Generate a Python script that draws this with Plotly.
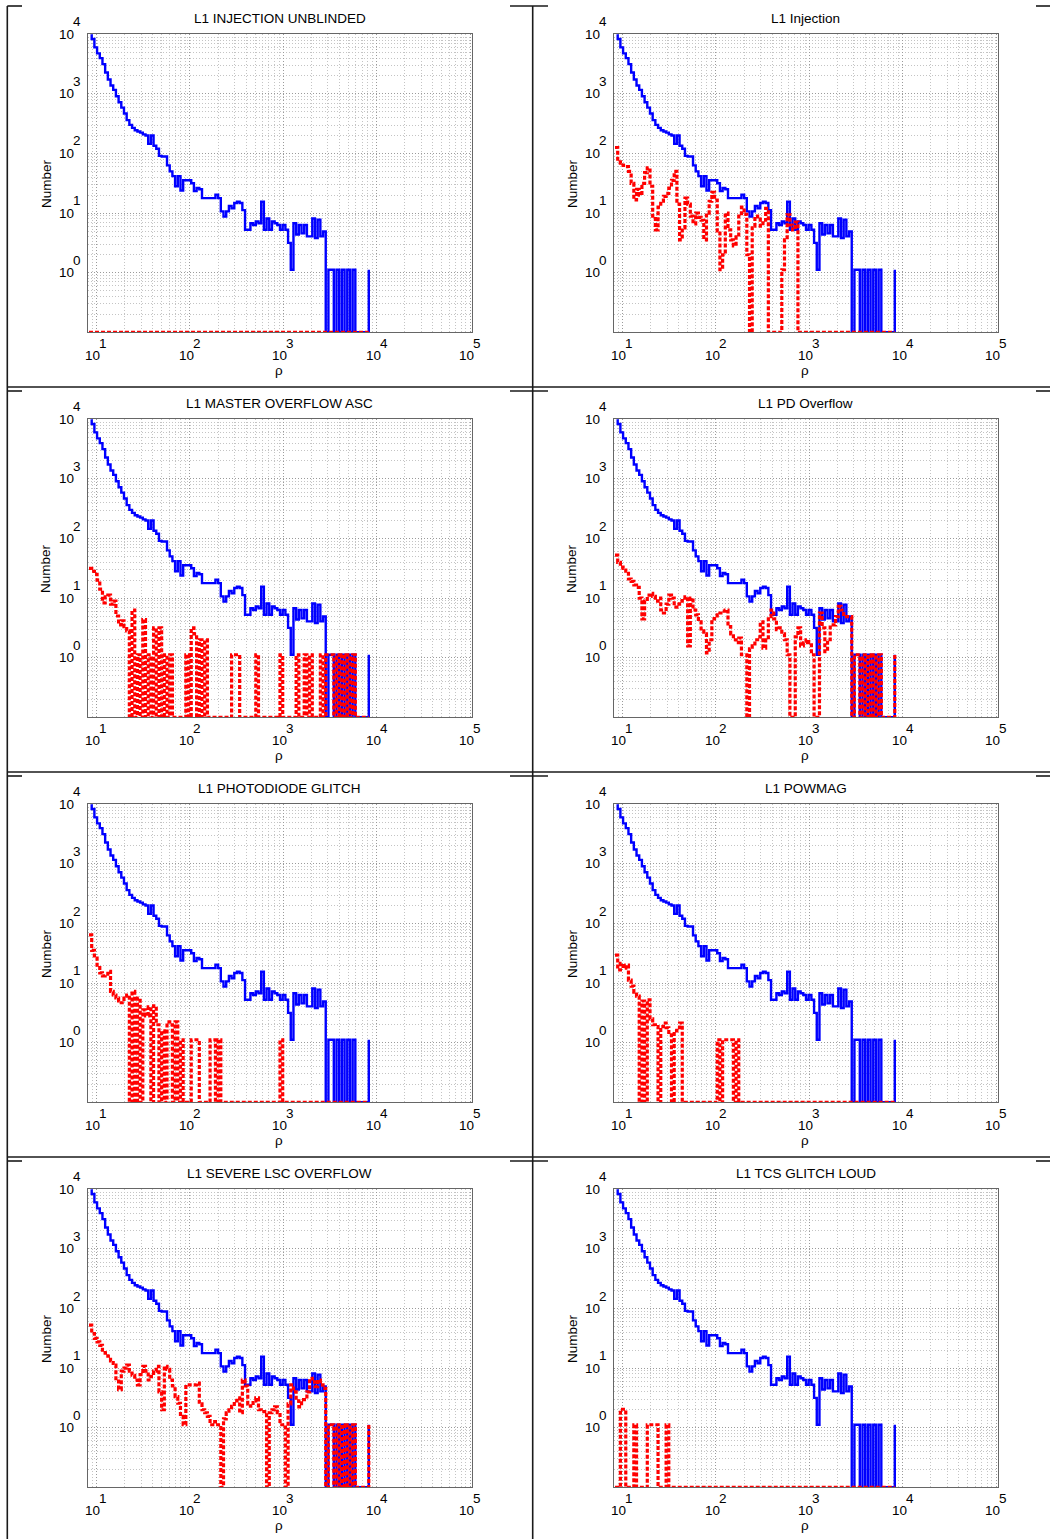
import numpy as np
import plotly.graph_objects as go

W, H = 1050, 1539
FONT = "Liberation Sans, Arial, Helvetica, sans-serif"

# Histogram binning in log10(rho), shared by every panel (left bin edges)
LOG_RHO_START = 0.920
LOG_RHO_STEP = 0.0288
N_BINS = 105

X_LOG_RANGE = [0.906, 5.017]
Y_LOG_RANGE = [-1.0, 4.0]

panel_titles = [
    "L1 INJECTION UNBLINDED", "L1 Injection",
    "L1 MASTER OVERFLOW ASC", "L1 PD Overflow",
    "L1 PHOTODIODE GLITCH", "L1 POWMAG",
    "L1 SEVERE LSC OVERFLOW", "L1 TCS GLITCH LOUD",
]

# All triggers (blue), identical in each panel
background_counts = [
    15800, 8320, 6030, 4790, 3980, 3160, 2290, 1740, 1380, 1170,
    912, 724, 589, 468, 363, 302, 269, 245, 234, 224,
    209, 200, 145, 200, 135, 120, 91.2, 89.1, 89.1, 63.1,
    50.1, 41.7, 28.2, 41.7, 24.0, 35.5, 35.5, 35.5, 31.6, 23.4,
    26.3, 25.1, 17.8, 17.8, 17.8, 17.8, 17.8, 20.4, 17.8, 10.7,
    8.71, 10.7, 13.2, 12.0, 14.8, 15.5, 14.8, 11.2, 5.25, 5.25,
    6.76, 6.31, 7.24, 6.76, 15.5, 5.25, 8.13, 5.25, 7.24, 6.76,
    6.31, 5.25, 6.31, 5.25, 3.16, 1.12, 6.76, 4.37, 6.31, 4.57,
    6.31, 4.07, 4.07, 8.13, 3.80, 7.76, 4.07, 4.90, 0, 1.12,
    1.12, 0, 1.12, 0, 1.12, 0, 1.12, 0, 1.12, 0,
    0, 0, 0, 0, 1.12,
]

# Triggers vetoed by each data-quality flag (red)
injection_unblinded = [
    0, 0, 0, 0, 0, 0, 0, 0, 0, 0,
    0, 0, 0, 0, 0, 0, 0, 0, 0, 0,
    0, 0, 0, 0, 0, 0, 0, 0, 0, 0,
    0, 0, 0, 0, 0, 0, 0, 0, 0, 0,
    0, 0, 0, 0, 0, 0, 0, 0, 0, 0,
    0, 0, 0, 0, 0, 0, 0, 0, 0, 0,
    0, 0, 0, 0, 0, 0, 0, 0, 0, 0,
    0, 0, 0, 0, 0, 0, 0, 0, 0, 0,
    0, 0, 0, 0, 0, 0, 0, 0, 0, 0,
    0, 0, 0, 0, 0, 0, 0, 0, 0, 0,
    0, 0, 0, 0, 0,
]
injection = [
    126, 72.4, 69.2, 63.1, 60.3, 50.1, 31.6, 16.6, 25.1, 20.0,
    31.6, 47.9, 57.5, 28.2, 8.91, 5.25, 12.6, 15.8, 19.1, 21.4,
    26.3, 35.5, 50.1, 14.1, 3.55, 5.62, 17.8, 14.1, 8.91, 6.61,
    10.0, 8.51, 7.59, 3.55, 10.0, 15.8, 22.4, 16.6, 5.01, 1.12,
    2.0, 10.0, 5.25, 3.55, 2.82, 3.98, 8.91, 12.6, 9.55, 2.0,
    0, 6.03, 8.91, 7.94, 6.03, 7.59, 12.0, 0, 0, 0,
    0, 0, 1.12, 3.55, 9.33, 6.31, 5.25, 7.08, 0, 0,
    0, 0, 0, 0, 0, 0, 0, 0, 0, 0,
    0, 0, 0, 0, 0, 0, 0, 0, 0, 0,
    0, 0, 0, 0, 0, 0, 0, 0, 0, 0,
    0, 0, 0, 0, 0,
]
master_overflow_asc = [
    31.6, 28.2, 25.1, 20.0, 14.1, 8.32, 10.5, 11.2, 7.94, 8.91,
    5.01, 3.55, 4.17, 3.31, 2.82, 0, 6.31, 0, 1.12, 0,
    4.37, 0, 1.12, 0, 3.16, 0, 3.16, 0, 1.12, 0,
    1.12, 0, 0, 0, 0, 0, 1.12, 0, 3.16, 2.51,
    0, 2.0, 0, 2.0, 0, 0, 0, 0, 0, 0,
    0, 0, 0, 1.12, 1.12, 1.12, 0, 0, 0, 0,
    0, 0, 1.12, 0, 0, 0, 0, 0, 0, 0,
    0, 1.12, 0, 0, 0, 0, 0, 1.12, 0, 0,
    1.12, 0, 1.12, 0, 0, 0, 1.12, 0, 1.12, 1.12,
    1.12, 0, 1.12, 0, 1.12, 0, 1.12, 0, 1.12, 0,
    0, 0, 0, 0, 0,
]
pd_overflow = [
    52.5, 39.8, 33.1, 31.6, 28.2, 20.9, 19.1, 16.6, 15.1, 10.0,
    4.47, 8.91, 11.2, 12.0, 10.7, 8.91, 10.0, 6.31, 5.62, 7.94,
    11.2, 10.0, 7.08, 7.94, 8.91, 10.0, 10.5, 1.58, 10.0, 6.31,
    5.25, 3.98, 2.82, 2.51, 1.2, 2.0, 4.47, 5.01, 5.25, 5.62,
    6.03, 6.31, 3.31, 2.51, 2.0, 1.78, 2.14, 1.12, 1.12, 0,
    1.41, 1.58, 2.0, 2.24, 3.98, 1.45, 2.0, 4.9, 6.31, 4.47,
    2.95, 3.16, 2.51, 2.0, 1.12, 0, 0, 2.24, 3.16, 1.58,
    1.78, 2.0, 1.78, 1.12, 0, 0, 5.62, 3.16, 1.26, 2.0,
    3.55, 3.55, 4.9, 7.24, 6.31, 4.9, 4.9, 4.9, 0, 1.12,
    1.12, 0, 1.12, 0, 1.12, 0, 1.12, 0, 1.12, 0,
    0, 0, 0, 0, 1.12,
]
photodiode_glitch = [
    64.6, 35.5, 26.3, 20.0, 14.8, 13.2, 14.1, 15.8, 7.24, 6.31,
    5.62, 5.01, 4.68, 5.62, 6.31, 0, 7.24, 0, 5.62, 0,
    3.55, 2.82, 3.98, 0, 4.17, 2.0, 0, 1.58, 0, 2.24,
    2.0, 0, 2.24, 0, 1.12, 0, 0, 0, 1.12, 1.12,
    1.12, 0, 0, 0, 0, 1.12, 1.12, 0, 1.12, 0,
    0, 0, 0, 0, 0, 0, 0, 0, 0, 0,
    0, 0, 0, 0, 0, 0, 0, 0, 0, 0,
    0, 1.12, 0, 0, 0, 0, 0, 0, 0, 0,
    0, 0, 0, 0, 0, 0, 0, 0, 0, 0,
    0, 0, 0, 0, 0, 0, 0, 0, 0, 0,
    0, 0, 0, 0, 0,
]
powmag = [
    29.5, 16.6, 21.4, 17.8, 20.0, 11.2, 8.91, 7.08, 6.03, 0,
    5.01, 0, 5.25, 2.51, 2.0, 1.86, 0, 1.86, 2.14, 1.78,
    1.35, 0, 1.58, 1.78, 2.14, 0, 0, 0, 0, 0,
    0, 0, 0, 0, 0, 0, 0, 0, 1.12, 0,
    1.12, 1.12, 1.12, 1.12, 0, 1.12, 0, 0, 0, 0,
    0, 0, 0, 0, 0, 0, 0, 0, 0, 0,
    0, 0, 0, 0, 0, 0, 0, 0, 0, 0,
    0, 0, 0, 0, 0, 0, 0, 0, 0, 0,
    0, 0, 0, 0, 0, 0, 0, 0, 0, 0,
    0, 0, 0, 0, 0, 0, 0, 0, 0, 0,
    0, 0, 0, 0, 0,
]
severe_lsc_overflow = [
    52.5, 38.0, 31.6, 27.5, 24.0, 20.0, 17.8, 15.8, 13.2, 11.2,
    6.03, 4.37, 8.91, 10.0, 11.2, 8.91, 7.59, 6.31, 5.25, 7.76,
    10.7, 8.91, 6.31, 7.24, 8.91, 10.7, 3.98, 2.0, 10.7, 9.55,
    6.31, 5.01, 3.31, 2.57, 1.55, 1.12, 5.25, 5.25, 5.25, 5.25,
    5.62, 2.51, 2.0, 1.78, 1.55, 1.12, 1.26, 1.12, 1.12, 0,
    1.41, 1.78, 2.0, 2.29, 2.82, 3.16, 1.78, 6.31, 5.01, 2.51,
    2.29, 2.82, 3.16, 2.0, 1.86, 1.86, 0, 1.78, 2.0, 2.24,
    1.78, 1.12, 1.12, 0, 2.51, 5.25, 3.98, 2.82, 2.24, 2.95,
    2.95, 3.98, 6.76, 5.89, 4.9, 6.31, 5.25, 4.57, 0, 1.12,
    1.12, 0, 1.12, 0, 1.12, 0, 1.12, 0, 1.12, 0,
    0, 0, 0, 0, 1.12,
]
tcs_glitch_loud = [
    0, 0, 2.04, 2.04, 0, 0, 0, 1.12, 0, 0,
    0, 0, 1.12, 1.12, 1.12, 1.12, 0, 0, 0, 1.12,
    0, 0, 0, 0, 0, 0, 0, 0, 0, 0,
    0, 0, 0, 0, 0, 0, 0, 0, 0, 0,
    0, 0, 0, 0, 0, 0, 0, 0, 0, 0,
    0, 0, 0, 0, 0, 0, 0, 0, 0, 0,
    0, 0, 0, 0, 0, 0, 0, 0, 0, 0,
    0, 0, 0, 0, 0, 0, 0, 0, 0, 0,
    0, 0, 0, 0, 0, 0, 0, 0, 0, 0,
    0, 0, 0, 0, 0, 0, 0, 0, 0, 0,
    0, 0, 0, 0, 0,
]

vetoed_counts = [
    injection_unblinded, injection, master_overflow_asc, pd_overflow,
    photodiode_glitch, powmag, severe_lsc_overflow, tcs_glitch_loud,
]

rho_edges = 10 ** (LOG_RHO_START + LOG_RHO_STEP * np.arange(N_BINS))
floor_value = 10 ** Y_LOG_RANGE[0]


def on_log_axis(counts):
    """Empty bins sit on the bottom of the log axis."""
    arr = np.asarray(counts, dtype=float)
    assert len(arr) == N_BINS
    return np.where(arr > 0, arr, floor_value)


def px(x, y):
    return x / W, 1 - y / H


def text_at(x, y, text, size=13.5, **kw):
    fx, fy = px(x, y)
    return dict(x=fx, y=fy, xref="paper", yref="paper", text=text,
                showarrow=False, xanchor="center", yanchor="middle",
                font=dict(family=FONT, size=size, color="black"), **kw)


fig = go.Figure()
annotations = []
shapes = []
layout = dict(
    width=W, height=H, margin=dict(l=0, r=0, t=0, b=0),
    paper_bgcolor="white", plot_bgcolor="white", showlegend=False,
    font=dict(family=FONT, size=13.5, color="black"),
)

# plot-area geometry of one cell, in pixels
PLOT_L, PLOT_R, PLOT_T, PLOT_B = 87.7, 471.7, 34.3, 332.3
CELL_DX, CELL_DY = 526, 385
DECADE_X = (PLOT_R - PLOT_L) / (X_LOG_RANGE[1] - X_LOG_RANGE[0])
DECADE_Y = (PLOT_B - PLOT_T) / (Y_LOG_RANGE[1] - Y_LOG_RANGE[0])

GRID_DOTS = "1px,2px"

for i, (title, vetoed) in enumerate(zip(panel_titles, vetoed_counts)):
    r, c = divmod(i, 2)
    ox, oy = CELL_DX * c, CELL_DY * r
    suffix = "" if i == 0 else str(i + 1)
    xref, yref = "x" + suffix, "y" + suffix

    axis_common = dict(
        type="log", dtick=1, showline=True, mirror=True,
        linecolor="#666666", linewidth=1,
        showgrid=True, gridcolor="#9a9a9a", griddash=GRID_DOTS, gridwidth=1,
        ticks="", showticklabels=False, zeroline=False,
        minor=dict(dtick="D1", showgrid=True, gridcolor="#c4c4c4",
                   griddash=GRID_DOTS, gridwidth=1, ticks=""),
    )
    layout["xaxis" + suffix] = dict(
        axis_common, range=X_LOG_RANGE, anchor=yref,
        domain=[(ox + PLOT_L) / W, (ox + PLOT_R) / W],
    )
    layout["yaxis" + suffix] = dict(
        axis_common, range=Y_LOG_RANGE, anchor=xref,
        domain=[1 - (oy + PLOT_B) / H, 1 - (oy + PLOT_T) / H],
    )

    fig.add_trace(go.Scatter(
        x=rho_edges, y=on_log_axis(background_counts), mode="lines",
        line=dict(color="#0000ff", width=2.4, shape="hv"),
        xaxis=xref, yaxis=yref, hoverinfo="skip",
    ))
    fig.add_trace(go.Scatter(
        x=rho_edges, y=on_log_axis(vetoed), mode="lines",
        line=dict(color="#ff0000", width=3.2, shape="hv", dash="4px,2px"),
        xaxis=xref, yaxis=yref, hoverinfo="skip",
    ))

    # title and axis titles
    annotations.append(text_at(ox + 279.7, oy + 18, title))
    annotations.append(text_at(ox + 46, oy + 184, "Number", textangle=-90))
    annotations.append(text_at(ox + 279, oy + 370, "ρ"))

    # decade tick labels: base "10" with a raised exponent, centred as a pair
    for e in range(1, 6):
        tx = ox + PLOT_L + (e - X_LOG_RANGE[0]) * DECADE_X
        annotations.append(text_at(tx - 3.7, oy + 355, "10"))
        annotations.append(text_at(tx + 6.8, oy + 343, str(e)))
    for e in range(0, 5):
        ty = oy + PLOT_B - (e - Y_LOG_RANGE[0]) * DECADE_Y
        annotations.append(text_at(ox + 66, ty, "10"))
        annotations.append(text_at(ox + 76.5, ty - 12.5, str(e)))


# cell borders of the surrounding table
def seg(x0, y0, x1, y1, color="#1a1a1a", width=1.6):
    a0, b0 = px(x0, y0)
    a1, b1 = px(x1, y1)
    return dict(type="line", xref="paper", yref="paper", x0=a0, y0=b0,
                x1=a1, y1=b1, line=dict(color=color, width=width))


shapes.append(seg(7.3, 6, 7.3, H))
shapes.append(seg(532.7, 6, 532.7, H))
for r in range(4):
    ytop = 6 + CELL_DY * r
    shapes.append(seg(7.3, ytop, 22, ytop))
    shapes.append(seg(510, ytop, 548, ytop))
    shapes.append(seg(1036, ytop, W, ytop))
    if r < 3:
        shapes.append(seg(7.3, 387 + CELL_DY * r, W, 387 + CELL_DY * r))

layout["annotations"] = annotations
layout["shapes"] = shapes
fig.update_layout(**layout)
fig.write_html("out.html")
